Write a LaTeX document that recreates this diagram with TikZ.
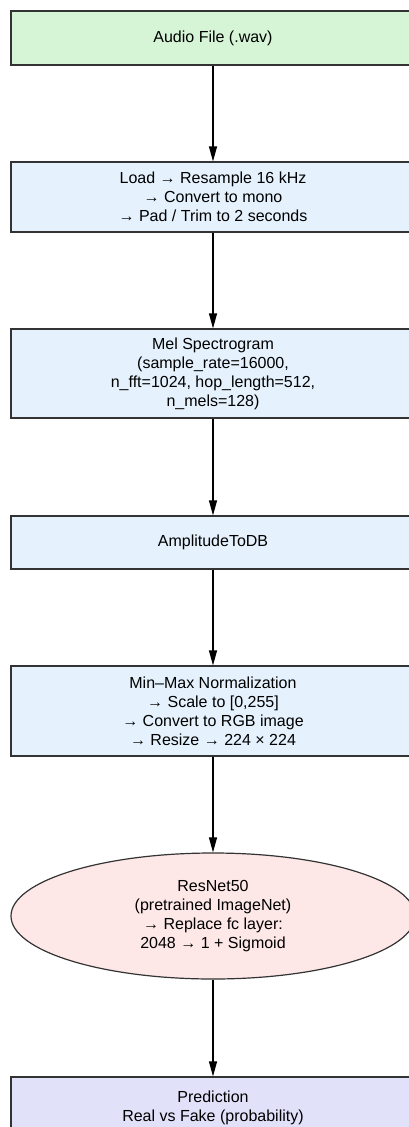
\documentclass[tikz,border=0pt]{standalone}
\usepackage{fontspec}
\setmainfont{Liberation Sans}
\usetikzlibrary{arrows.meta,shapes.geometric}

\definecolor{inputgreen}{RGB}{214,245,214}
\definecolor{stepblue}{RGB}{229,242,253}
\definecolor{modelpink}{RGB}{253,231,231}
\definecolor{outlilac}{RGB}{225,225,250}

\begin{document}
\begin{tikzpicture}[x=1pt,y=-1pt,
        stage/.style={draw=black!80, line width=1.2pt, fill=stepblue,
            minimum width=404pt, inner sep=0pt, align=center,
            font=\fontsize{16}{19}\selectfont},
        flow/.style={-{Triangle[length=15pt,width=8pt]}, line width=1.2pt}]
    \useasboundingbox (0,0) rectangle (409,1127);
    \clip (0,0) rectangle (409,1127);
    \node [stage, fill=inputgreen, minimum height=54pt] (wav) at (213,38) {Audio File (.wav)};
    \node [stage, minimum height=70pt] (load) at (213,197) {Load → Resample 16 kHz\\→ Convert to mono\\→ Pad / Trim to 2 seconds};
    \node [stage, minimum height=89pt] (mel) at (213,373.5) {Mel Spectrogram\\(sample\_rate=16000,\\n\_fft=1024, hop\_length=512,\\n\_mels=128)};
    \node [stage, minimum height=53pt] (db) at (213,542.5) {AmplitudeToDB};
    \node [stage, minimum height=90pt] (norm) at (213,711) {Min–Max Normalization\\→ Scale to [0,255]\\→ Convert to RGB image\\→ Resize → 224 × 224};
    \node [stage, ellipse, fill=modelpink, minimum height=126pt] (resnet) at (213,916) {ResNet50\\(pretrained ImageNet)\\→ Replace fc layer:\\2048 → 1 + Sigmoid};
    \node [stage, fill=outlilac, minimum height=62pt] (pred) at (213,1108) {Prediction\\Real vs Fake (probability)};
    % pipeline arrows
    \draw [flow] (wav) -- (load);
    \draw [flow] (load) -- (mel);
    \draw [flow] (mel) -- (db);
    \draw [flow] (db) -- (norm);
    \draw [flow] (norm) -- (resnet);
    \draw [flow] (resnet) -- (pred);
\end{tikzpicture}
\end{document}
